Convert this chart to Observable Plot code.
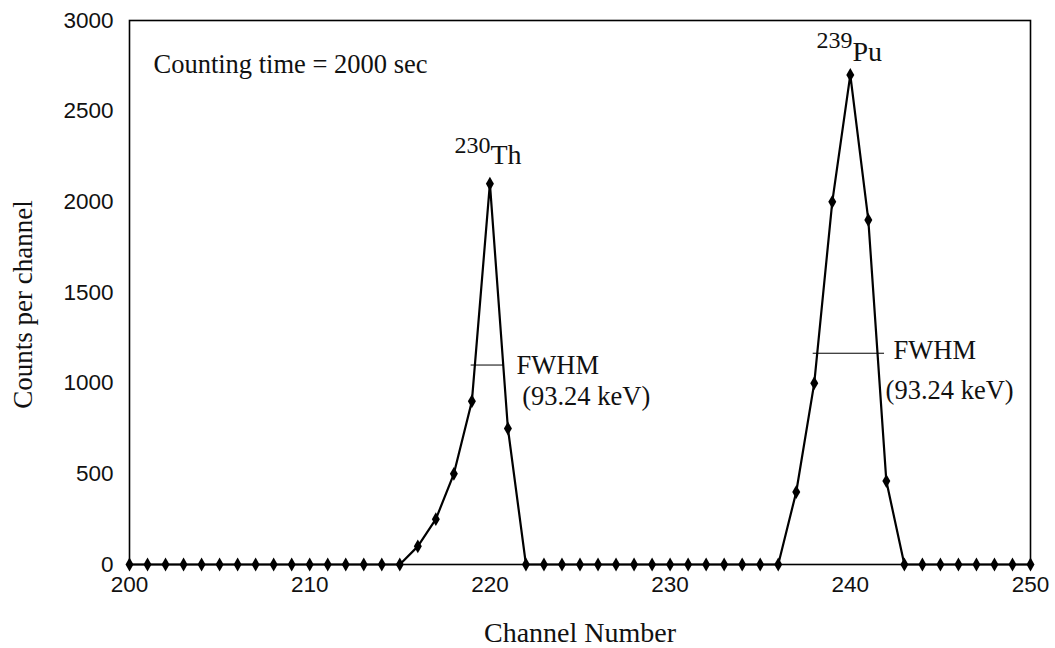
<!DOCTYPE html>
<html>
<head>
<meta charset="utf-8">
<script src="https://cdn.jsdelivr.net/npm/d3@7"></script>
<script src="https://cdn.jsdelivr.net/npm/@observablehq/plot@0.6"></script>
<style>
  html, body { margin: 0; padding: 0; background: #fff; }
  #chart svg { display: block; }
</style>
</head>
<body>
<div id="chart"></div>
<script>
// Channel numbers (x) and counts per channel (y)
const channels = [200,201,202,203,204,205,206,207,208,209,210,211,212,213,214,215,216,217,218,219,220,221,222,223,224,225,226,227,228,229,230,231,232,233,234,235,236,237,238,239,240,241,242,243,244,245,246,247,248,249,250];
const counts   = [0,0,0,0,0,0,0,0,0,0,0,0,0,0,0,0,100,250,500,900,2100,750,0,0,0,0,0,0,0,0,0,0,0,0,0,0,0,400,1000,2000,2700,1900,460,0,0,0,0,0,0,0,0];

const xTicks = [200, 210, 220, 230, 240, 250];
const yTicks = [0, 500, 1000, 1500, 2000, 2500, 3000];

// Annotations (data coordinates)
const fwhmLines = [
  {x1: 218.96, x2: 220.77, y: 1100},
  {x1: 237.94, x2: 241.90, y: 1165}
];
const fwhmLabels = [
  {x: 221.48, y: 1053, text: "FWHM"},
  {x: 221.79, y: 882, text: "(93.24 keV)"},
  {x: 242.40, y: 1136, text: "FWHM"},
  {x: 241.96, y: 915, text: "(93.24 keV)"}
];
const isotopeMass = [
  {x: 220.03, y: 2267, text: "230"},
  {x: 240.12, y: 2846, text: "239"}
];
const isotopeName = [
  {x: 220.03, y: 2206, text: "Th"},
  {x: 240.12, y: 2779, text: "Pu"}
];
const noteText = [{x: 201.33, y: 2708, text: "Counting time = 2000 sec"}];

const data = channels.map((c, i) => ({channel: c, count: counts[i]}));
const serif = "'Liberation Serif', 'Times New Roman', serif";
const sans = "'Liberation Sans', Arial, sans-serif";
const ink = "#111";

const chart = Plot.plot({
  width: 1055,
  height: 648,
  marginLeft: 129,
  marginRight: 25,
  marginTop: 20,
  marginBottom: 84,
  style: {fontFamily: sans, fontSize: "22px", color: ink, background: "#fff"},
  x: {domain: [200, 250], label: null},
  y: {domain: [0, 3000], label: null},
  marks: [
    Plot.frame({stroke: "#000", strokeWidth: 1.6}),
    Plot.axisX({ticks: xTicks, tickSize: 0, tickPadding: 12, fontSize: 22.5, tickFormat: d3.format("d"), label: null}),
    Plot.axisY({ticks: yTicks, tickSize: 0, tickPadding: 16, fontSize: 22.5, tickFormat: d3.format("d"), label: null}),
    Plot.line(data, {x: "channel", y: "count", stroke: "#000", strokeWidth: 2.2}),
    Plot.dot(data, {x: "channel", y: "count", symbol: "diamond", r: 4.2, fill: "#000", stroke: "none"}),
    Plot.ruleY(fwhmLines, {x1: "x1", x2: "x2", y: "y", stroke: "#000", strokeWidth: 1}),
    Plot.text(fwhmLabels, {x: "x", y: "y", text: "text", textAnchor: "start", lineAnchor: "bottom", fontFamily: serif, fontSize: 26.5, fill: ink}),
    Plot.text(isotopeMass, {x: "x", y: "y", text: "text", textAnchor: "end", lineAnchor: "bottom", fontFamily: serif, fontSize: 24, fill: ink}),
    Plot.text(isotopeName, {x: "x", y: "y", text: "text", textAnchor: "start", lineAnchor: "bottom", fontFamily: serif, fontSize: 28, fill: ink}),
    Plot.text(noteText, {x: "x", y: "y", text: "text", textAnchor: "start", lineAnchor: "bottom", fontFamily: serif, fontSize: 26.5, fill: ink}),
    Plot.text(["Channel Number"], {frameAnchor: "bottom", dy: 77, lineAnchor: "bottom", textAnchor: "middle", fontFamily: serif, fontSize: 28, fill: ink}),
    Plot.text(["Counts per channel"], {frameAnchor: "left", dx: -106, dy: 12, rotate: -90, textAnchor: "middle", lineAnchor: "middle", fontFamily: serif, fontSize: 27, fill: ink})
  ]
});
document.getElementById("chart").appendChild(chart);
</script>
</body>
</html>
